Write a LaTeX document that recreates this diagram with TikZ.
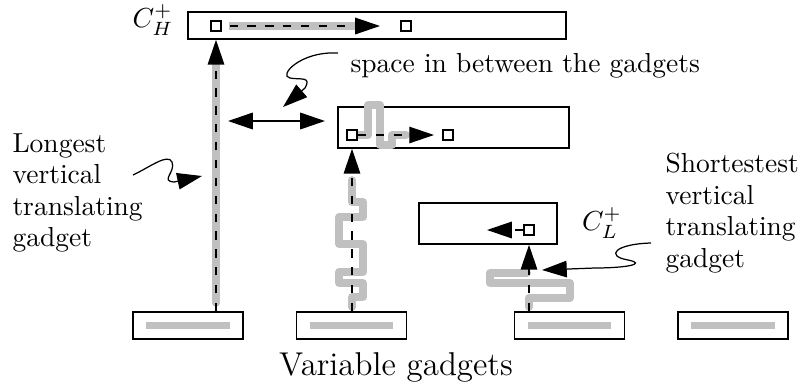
\documentclass[tikz,border=0pt]{standalone}
\usetikzlibrary{arrows.meta,positioning,calc}
\definecolor{trackgray}{RGB}{192,192,192}

\begin{document}
\begin{tikzpicture}[x=0.3636pt, y=-0.3636pt,
    >={Triangle[length=9pt,width=6pt]},
    box/.style={draw, line width=0.6pt, inner sep=0pt},
    port/.style={draw, fill=white, line width=0.7pt, minimum size=3.6pt, inner sep=0pt},
    track/.style={trackgray, line width=2.8pt, line join=round, line cap=round},
    move/.style={line width=0.5pt, dash pattern=on 3pt off 3.5pt, ->},
    note/.style={line width=0.45pt, ->},
    txt/.style={inner sep=0pt}]
  \useasboundingbox (0,0) rectangle (806,387);

  % variable gadgets
  \foreach \x/\n in {188/1,351.5/2,569.5/3,733/4} {
    \node[box, minimum width=40pt, minimum height=9.8pt] (var\n) at (\x,325.5) {};
    \draw[trackgray, line width=2.2pt] ([xshift=5.1pt]var\n.center -| var\n.west) -- ([xshift=-5.1pt]var\n.center -| var\n.east);
  }
  \node[txt, font=\large, anchor=base] (vartxt) at (396,375) {Variable gadgets};

  % clause gadgets
  \node[box, minimum width=137.4pt, minimum height=9.8pt] (cH) at (377,25.5) {};
  \node[box, minimum width=84pt, minimum height=14.9pt] (cM) at (453.5,127.5) {};
  \node[box, minimum width=50.2pt, minimum height=14.9pt] (cL) at (488,223.5) {};

  % translating tracks
  \draw[track] (216,303) -- (216,64);
  \draw[track, line cap=butt] (229,26) -- (355,26);
  \draw[track] (352,307) -- (352,297) -- (363,297) -- (363,283) -- (339,283) -- (339,272)
    -- (363,272) -- (363,244) -- (339,244) -- (339,217) -- (363,217) -- (363,202)
    -- (352,202) -- (352,180);
  \draw[track] (357,135) -- (368,135) -- (368,105) -- (380,105) -- (380,145) -- (392,145)
    -- (392,135) -- (406,135);
  \draw[track] (529,307) -- (529,298) -- (570,298) -- (570,283) -- (490,283) -- (490,273)
    -- (527,273);

  % ports
  \node[port] (pH) at (216,26) {};
  \node[port] (pH2) at (406,26) {};
  \node[port] (pM) at (352,135) {};
  \node[port] (pM2) at (448,135) {};
  \node[port] (pL) at (529,230) {};

  \coordinate (tH) at (380,26);
  \coordinate (tM) at (434,135);
  \coordinate (tL) at (487,230);

  \draw[move] (var1.north -| pH) -- (cH.south -| pH);
  \draw[move] (var2.north -| pM) -- (cM.south -| pM);
  \draw[move] (var3.north -| pL) -- (cL.south -| pL);
  \draw[move, shorten <=2.8pt] (pH.east) -- (tH);
  \draw[move] (pM.east) -- (tM);
  \draw[move] (pL.west) -- (tL);

  % space between
  \coordinate (gapL) at (228,121);
  \coordinate (gapR) at (325,121);
  \draw[line width=0.6pt, <->] (gapL) -- (gapR);

  % labels
  \node[txt] (lblH) at (153,20) {$C_H^+$};
  \node[txt] (lblL) at (602,223) {$C_L^+$};
  \node[txt, anchor=base west] (gaptxt) at (350,72) {space in between the gadgets};
  \node[txt, anchor=north west, align=left, font=\fontsize{10}{11.4}\selectfont] (longtxt) at (12,133)
    {Longest\\vertical\\translating\\gadget};
  \node[txt, anchor=north west, align=left, font=\fontsize{10}{11.4}\selectfont] (shorttxt) at (665,153)
    {Shortestest\\vertical\\translating\\gadget};

  % pointers
  \coordinate (gapS) at (338,53);
  \coordinate (gapT) at (283,107);
  \draw[note] (gapS) .. controls (300,51) and (278,76) .. (290,78)
    .. controls (300,80) and (312,76) .. (305,88) -- (gapT);
  \coordinate (longS) at (133,175);
  \coordinate (longT) at (202,176);
  \draw[note] (longS) .. controls (150,167) and (168,153) .. (172,162)
    .. controls (176,172) and (160,181) .. (174,182) -- (longT);
  \coordinate (shortS) at (651,243);
  \coordinate (shortT) at (542,270);
  \draw[note] (shortS) .. controls (615,244) and (605,256) .. (628,260)
    .. controls (648,264) and (625,268) .. (595,268) -- (shortT);
\end{tikzpicture}
\end{document}
